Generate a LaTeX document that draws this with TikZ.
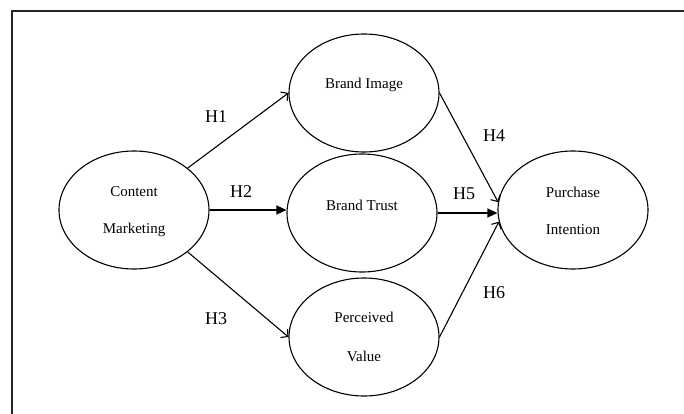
\documentclass[tikz,border=0pt]{standalone}
\usepackage{fontspec}
\setmainfont{Liberation Serif}
\usetikzlibrary{arrows.meta,shapes.geometric}
\tikzset{
  construct/.style={draw, line width=1.1pt, ellipse, minimum width=150pt, minimum height=118pt, inner sep=0pt},
  lbl/.style={font=\fontsize{15}{15}\selectfont, inner sep=0pt},
  hyp/.style={font=\fontsize{18}{18}\selectfont, inner sep=0pt},
  openarrow/.style={line width=1.1pt, -{Straight Barb[length=5pt, width=11pt, line width=1.1pt]}},
  solidarrow/.style={line width=1.1pt, -{Triangle[length=10pt, width=9pt]}}
}
\begin{document}
\begin{tikzpicture}[x=1pt, y=-1pt]
\useasboundingbox (0,0) rectangle (684,414);
% frame: only its top and left edges fall inside the page
\draw[line width=1.5pt, black!85] (684,11) -- (12,11) -- (12,414);

% constructs
\node[construct] (cm) at (134,210) {};
\node[construct] (bi) at (364,93) {};
\node[construct] (bt) at (362,213) {};
\node[construct] (pv) at (364,337) {};
\node[construct] (pi) at (573,210) {};

% construct names
\node[lbl] (cmA) at (134,192) {Content};
\node[lbl] (cmB) at (134,230) {Marketing};
\node[lbl] (biA) at (364,85) {Brand Image};
\node[lbl] (btA) at (362,205) {Brand Trust};
\node[lbl] (pvA) at (364,317) {Perceived};
\node[lbl] (pvB) at (364,356) {Value};
\node[lbl] (piA) at (573,192) {Purchase};
\node[lbl] (piB) at (573,230) {Intention};

% paths
\draw[openarrow] (cm.38) -- (bi.west);
\draw[solidarrow] (cm.east) -- (bt.west |- cm.east);
\draw[openarrow] (cm.-38) -- (pv.west);
\draw[openarrow] (bi.east) -- (pi.174);
\draw[solidarrow] (bt.east) -- (pi.west |- bt.east);
\draw[openarrow] (pv.east) -- (pi.189);

% hypotheses
\node[hyp] (h1) at (216,117) {H1};
\node[hyp] (h2) at (241,192) {H2};
\node[hyp] (h3) at (216,319) {H3};
\node[hyp] (h4) at (494,136) {H4};
\node[hyp] (h5) at (464,194) {H5};
\node[hyp] (h6) at (494,293) {H6};
\end{tikzpicture}
\end{document}
